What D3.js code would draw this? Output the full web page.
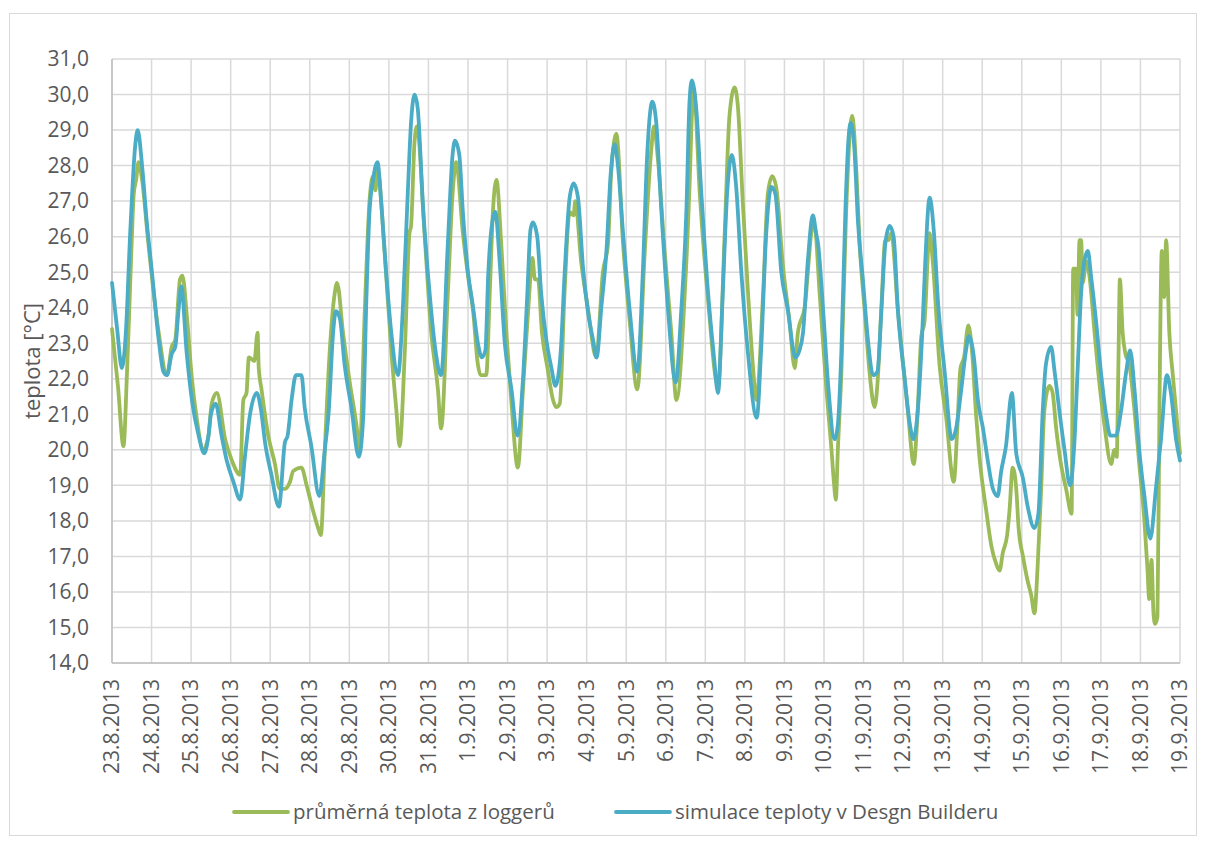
<!DOCTYPE html>
<html>
<head>
<meta charset="utf-8">
<script src="https://cdn.jsdelivr.net/npm/d3@7"></script>
<style>
  html, body { margin: 0; padding: 0; background: #fff; }
  svg { display: block; font-family: "Open Sans", "Noto Sans", "Liberation Sans", sans-serif; }
</style>
</head>
<body>
<svg id="chart" width="1205" height="843"></svg>
<script>
// Day labels along the x axis (one per day, midnight)
const dayLabels = ["23.8.2013","24.8.2013","25.8.2013","26.8.2013","27.8.2013","28.8.2013","29.8.2013",
  "30.8.2013","31.8.2013","1.9.2013","2.9.2013","3.9.2013","4.9.2013","5.9.2013","6.9.2013","7.9.2013",
  "8.9.2013","9.9.2013","10.9.2013","11.9.2013","12.9.2013","13.9.2013","14.9.2013","15.9.2013",
  "16.9.2013","17.9.2013","18.9.2013","19.9.2013"];

const yTicks = d3.range(14, 32, 1);

// Measured average temperature from the loggers: time in days since 23.8.2013 0:00, value in °C
const measuredDays = [0.00,0.15,0.29,0.38,0.49,0.55,0.61,0.67,0.76,0.92,1.18,1.39,1.51,1.60,1.72,1.78,1.89,2.02,2.14,2.31,
  2.44,2.52,2.65,2.86,3.03,3.24,3.32,3.40,3.46,3.60,3.68,3.71,3.78,3.95,4.12,4.24,4.37,4.50,4.58,4.79,
  4.92,5.08,5.21,5.28,5.38,5.50,5.63,5.69,5.84,6.01,6.18,6.26,6.39,6.51,6.60,6.66,6.71,6.89,7.06,7.19,
  7.27,7.40,7.52,7.56,7.65,7.71,7.90,8.07,8.24,8.32,8.49,8.61,8.70,8.87,9.00,9.13,9.25,9.32,9.46,9.55,
  9.63,9.72,9.84,9.97,10.10,10.26,10.39,10.52,10.63,10.69,10.77,10.87,11.01,11.15,11.23,11.32,11.44,11.57,11.67,11.71,
  11.86,12.03,12.24,12.41,12.54,12.62,12.75,12.92,13.09,13.28,13.47,13.63,13.70,13.80,13.97,14.14,14.27,14.48,14.60,14.66,
  14.71,14.86,15.07,15.32,15.49,15.61,15.74,15.82,15.95,16.08,16.20,16.29,16.46,16.58,16.69,16.79,16.96,17.13,17.26,17.34,
  17.51,17.72,17.76,17.89,18.06,18.19,18.25,18.30,18.35,18.44,18.56,18.71,18.82,18.90,19.03,19.15,19.28,19.36,19.45,19.55,
  19.63,19.70,19.87,20.00,20.12,20.27,20.36,20.46,20.54,20.67,20.75,20.92,21.09,21.28,21.37,21.45,21.54,21.65,21.74,21.85,
  21.93,22.10,22.23,22.35,22.44,22.52,22.63,22.69,22.77,22.86,22.92,23.03,23.15,23.24,23.32,23.40,23.49,23.57,23.70,23.78,
  23.87,23.99,24.12,24.26,24.30,24.37,24.41,24.46,24.50,24.54,24.63,24.71,24.84,24.96,25.09,25.26,25.34,25.40,25.44,25.48,
  25.55,25.62,25.72,25.85,25.97,26.10,26.18,26.22,26.28,26.33,26.37,26.43,26.48,26.54,26.60,26.65,26.73,26.81,26.94,27.00];
const measuredTemps = [23.4,21.8,20.1,22.2,25.6,27.2,27.6,28.1,27.6,25.8,23.3,22.1,22.9,23.1,24.8,24.9,23.8,22.0,20.9,20.0,
  20.4,21.3,21.6,20.3,19.7,19.3,21.4,21.6,22.6,22.5,23.3,22.3,21.7,20.4,19.6,18.9,18.9,19.1,19.4,19.5,
  19.0,18.3,17.8,17.6,20.0,22.7,24.4,24.7,23.3,21.9,20.7,20.0,23.9,27.0,27.7,27.3,27.9,25.6,22.8,21.1,
  20.1,22.7,26.1,26.3,28.7,29.1,26.1,23.3,21.7,20.6,24.4,27.2,28.1,26.1,24.9,23.9,22.4,22.1,22.1,24.4,
  26.7,27.6,25.8,23.3,21.3,19.5,21.7,23.9,25.4,24.8,24.8,23.3,22.3,21.4,21.2,21.3,24.4,26.7,26.6,27.0,
  25.3,24.0,22.6,25.0,25.8,27.8,28.9,25.8,23.6,21.7,25.6,28.4,29.1,28.2,25.6,23.3,21.4,24.4,27.4,29.4,
  30.1,27.2,24.2,21.8,26.1,29.4,30.2,29.7,26.9,24.4,22.4,21.4,24.4,27.2,27.7,27.4,25.2,23.6,22.3,23.3,
  24.0,26.3,26.3,24.4,21.7,20.0,19.1,18.6,20.0,22.2,26.7,29.4,27.8,25.8,23.9,22.2,21.2,22.0,24.0,25.9,
  25.9,26.1,23.9,22.4,21.1,19.6,20.9,23.2,23.6,26.1,25.3,22.4,20.9,19.1,20.6,22.3,22.6,23.5,22.8,20.9,
  19.8,18.3,17.3,16.8,16.6,17.1,17.6,18.3,19.5,18.9,17.8,17.0,16.3,15.9,15.4,16.7,18.9,21.1,21.8,21.6,
  20.6,19.6,18.9,18.2,25.1,25.1,23.8,25.9,25.9,24.7,25.3,24.9,23.3,21.9,20.7,19.6,20.0,19.8,22.2,24.8,
  23.3,22.7,22.4,21.1,19.6,18.0,16.6,15.8,16.9,15.4,15.1,15.3,21.1,25.6,24.3,25.9,23.3,22.2,20.6,19.9];

// Simulated temperature from DesignBuilder: time in days since 23.8.2013 0:00, value in °C
const simDays = [0.00,0.13,0.25,0.35,0.46,0.59,0.65,0.76,0.88,1.01,1.18,1.30,1.39,1.51,1.60,1.68,1.75,1.89,2.02,2.19,
  2.33,2.44,2.50,2.62,2.77,2.90,3.07,3.24,3.36,3.49,3.66,3.77,3.87,4.03,4.22,4.37,4.44,4.54,4.65,4.79,
  4.87,5.04,5.24,5.38,5.48,5.59,5.66,5.76,5.88,6.05,6.24,6.35,6.43,6.51,6.60,6.71,6.81,6.93,7.06,7.23,
  7.35,7.48,7.56,7.65,7.73,7.86,8.03,8.19,8.32,8.49,8.61,8.67,8.78,8.87,9.00,9.13,9.25,9.35,9.44,9.51,
  9.59,9.69,9.80,9.93,10.10,10.25,10.39,10.50,10.58,10.64,10.75,10.85,10.98,11.11,11.21,11.34,11.44,11.57,11.67,11.78,
  11.91,12.03,12.16,12.25,12.37,12.50,12.61,12.71,12.79,12.92,13.09,13.28,13.42,13.53,13.66,13.76,13.89,14.06,14.25,14.39,
  14.52,14.60,14.66,14.77,14.90,15.07,15.22,15.32,15.44,15.55,15.67,15.78,15.91,16.08,16.30,16.41,16.54,16.67,16.77,16.92,
  17.09,17.21,17.27,17.38,17.47,17.59,17.72,17.80,17.85,17.98,18.10,18.27,18.35,18.44,18.54,18.61,18.67,18.76,18.86,18.99,
  19.11,19.24,19.35,19.45,19.55,19.66,19.76,19.87,20.04,20.16,20.26,20.37,20.48,20.56,20.67,20.78,20.88,21.05,21.23,21.34,
  21.47,21.59,21.66,21.79,21.89,22.02,22.14,22.27,22.39,22.48,22.60,22.75,22.86,23.03,23.15,23.32,23.42,23.53,23.61,23.74,
  23.83,23.95,24.08,24.22,24.33,24.41,24.50,24.58,24.67,24.75,24.88,25.00,25.13,25.24,25.38,25.51,25.64,25.74,25.85,25.97,
  26.10,26.25,26.39,26.52,26.67,26.77,26.90,27.00];
const simTemps = [24.7,23.4,22.3,23.3,26.1,28.6,29.0,28.0,26.4,25.0,23.1,22.2,22.1,22.7,22.9,23.9,24.6,22.7,21.4,20.4,
  19.9,20.4,21.0,21.3,20.4,19.7,19.1,18.6,19.8,21.0,21.6,21.1,20.2,19.3,18.4,20.2,20.4,21.4,22.1,22.1,
  21.2,20.1,18.7,20.0,21.1,23.3,23.9,23.7,22.4,21.2,19.8,20.9,24.2,26.7,27.6,28.1,26.9,25.0,23.3,22.1,
  23.9,27.3,29.2,30.0,29.6,26.9,24.4,22.7,22.1,25.8,28.3,28.7,28.3,26.7,25.0,24.0,23.0,22.6,22.8,24.9,
  26.2,26.7,25.3,23.0,21.7,20.4,22.0,24.4,26.2,26.4,26.0,24.4,23.1,22.3,21.8,22.7,24.9,27.1,27.5,27.1,
  25.1,23.9,23.1,22.6,24.0,25.6,27.8,28.6,28.0,26.1,23.9,22.2,25.0,28.3,29.8,29.2,26.7,23.9,21.9,23.9,
  26.7,29.8,30.4,29.6,27.2,24.4,22.6,21.6,24.4,27.2,28.3,27.4,25.0,22.7,20.9,22.8,26.1,27.4,27.2,25.0,
  23.9,22.9,22.6,22.8,23.3,25.3,26.6,26.1,25.8,23.9,21.9,20.3,20.7,22.8,26.7,28.6,29.2,28.6,26.4,24.7,
  23.1,22.1,22.2,23.9,25.8,26.3,26.0,23.9,22.0,20.8,20.3,21.1,23.2,25.3,27.1,26.1,24.2,22.2,20.3,20.6,
  21.7,22.8,23.2,22.6,21.4,20.6,19.7,18.9,18.7,19.4,20.1,21.6,19.9,19.2,18.4,17.8,18.2,21.1,22.4,22.9,
  22.2,21.1,20.0,19.0,20.2,22.2,24.4,25.3,25.6,24.9,23.6,22.2,21.0,20.4,20.4,21.1,22.2,22.8,21.7,20.0,
  18.7,17.5,18.9,20.3,22.1,21.6,20.3,19.7];

const W = 1205, H = 843;
const margin = { left: 112, right: 25, top: 59, bottom: 180 };
const svg = d3.select("#chart");

// Outer chart frame
svg.append("rect")
  .attr("x", 9.5).attr("y", 13.5)
  .attr("width", 1187).attr("height", 822)
  .attr("fill", "#fff").attr("stroke", "#D9D9D9").attr("stroke-width", 1);

const x = d3.scaleLinear().domain([0, dayLabels.length - 1]).range([margin.left, W - margin.right]);
const y = d3.scaleLinear().domain([14, 31]).range([H - margin.bottom, margin.top]);

const gridColor = "#D9D9D9";
const textColor = "#595959";

// Horizontal gridlines
svg.append("g")
  .selectAll("line").data(yTicks).join("line")
  .attr("x1", x(0)).attr("x2", x(dayLabels.length - 1))
  .attr("y1", d => y(d)).attr("y2", d => y(d))
  .attr("stroke", gridColor).attr("stroke-width", 1.5);

// Vertical gridlines, one per day
svg.append("g")
  .selectAll("line").data(d3.range(dayLabels.length)).join("line")
  .attr("x1", d => x(d)).attr("x2", d => x(d))
  .attr("y1", y(14)).attr("y2", y(31))
  .attr("stroke", gridColor).attr("stroke-width", 1.5);

// Axes lines
svg.append("line")
  .attr("x1", x(0)).attr("x2", x(0)).attr("y1", y(31)).attr("y2", y(14))
  .attr("stroke", "#BFBFBF").attr("stroke-width", 1.5);
svg.append("line")
  .attr("x1", x(0)).attr("x2", x(dayLabels.length - 1)).attr("y1", y(14)).attr("y2", y(14))
  .attr("stroke", "#BFBFBF").attr("stroke-width", 1.5);

// Y axis tick labels (decimal comma)
const fmt = d => d3.format(".1f")(d).replace(".", ",");
svg.append("g")
  .selectAll("text").data(yTicks).join("text")
  .attr("x", x(0) - 23).attr("y", d => y(d))
  .attr("dy", "0.35em")
  .attr("text-anchor", "end")
  .attr("font-size", 21)
  .attr("fill", textColor)
  .text(fmt);

// X axis tick labels, rotated
svg.append("g")
  .selectAll("text").data(dayLabels).join("text")
  .attr("transform", (d, i) => `translate(${x(i)},${y(14) + 16}) rotate(-90)`)
  .attr("dy", "0.35em")
  .attr("text-anchor", "end")
  .attr("font-size", 21)
  .attr("fill", textColor)
  .text(d => d);

// Y axis title
svg.append("text")
  .attr("transform", `translate(32,${(y(14) + y(31)) / 2}) rotate(-90)`)
  .attr("text-anchor", "middle")
  .attr("dy", "0.35em")
  .attr("font-size", 22)
  .attr("fill", textColor)
  .text("teplota [°C]");

const line = d3.line()
  .x(d => x(d[0]))
  .y(d => y(d[1]))
  .curve(d3.curveMonotoneX);

const measured = measuredDays.map((d, i) => [d, measuredTemps[i]]);
const simulated = simDays.map((d, i) => [d, simTemps[i]]);

const green = "#9BBB59", blue = "#4BACC6";

svg.append("path").datum(measured)
  .attr("d", line).attr("fill", "none")
  .attr("stroke", green).attr("stroke-width", 3.8)
  .attr("stroke-linejoin", "round").attr("stroke-linecap", "round");

svg.append("path").datum(simulated)
  .attr("d", line).attr("fill", "none")
  .attr("stroke", blue).attr("stroke-width", 3.8)
  .attr("stroke-linejoin", "round").attr("stroke-linecap", "round");

// Legend
const legendItems = [
  { label: "průměrná teplota z loggerů", color: green, x0: 234 },
  { label: "simulace teploty v Desgn Builderu", color: blue, x0: 616 }
];
const lg = svg.append("g");
legendItems.forEach(it => {
  lg.append("line")
    .attr("x1", it.x0).attr("x2", it.x0 + 54)
    .attr("y1", 812).attr("y2", 812)
    .attr("stroke", it.color).attr("stroke-width", 3.8).attr("stroke-linecap", "round");
  lg.append("text")
    .attr("x", it.x0 + 59).attr("y", 812)
    .attr("dy", "0.35em")
    .attr("font-size", 20.5)
    .attr("fill", textColor)
    .text(it.label);
});
</script>
</body>
</html>
